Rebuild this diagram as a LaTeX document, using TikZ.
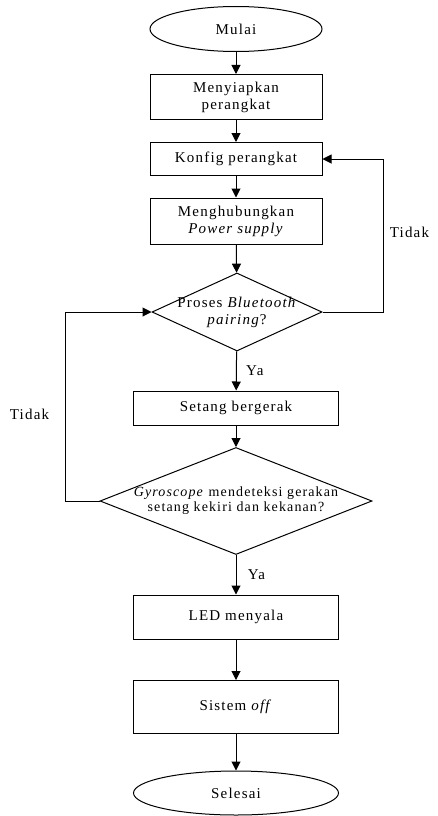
\documentclass[tikz,border=0pt]{standalone}
\usepackage{fontspec}
\setmainfont{Liberation Serif}[LetterSpace=8]
\usepackage{tikz}
\usetikzlibrary{shapes.geometric,arrows.meta}

\tikzset{
    proses/.style={draw, rectangle, minimum height=#1, align=center},
    terminal/.style={draw, ellipse, minimum width=172pt, minimum height=45pt},
    keputusan/.style={draw, diamond, inner sep=0pt},
}

\begin{document}
\begin{tikzpicture}[x=1pt, y=-1pt, line width=1pt, >={Triangle[length=9pt,width=9pt]},
        font=\fontsize{15}{17}\selectfont]
    \useasboundingbox (0, 0) rectangle (438, 816);

    \node (mulai) [terminal] at (236, 29) {Mulai};
    \node (siap) [proses=45pt, minimum width=172pt] at (236, 97) {Menyiapkan\\perangkat};
    \node (konfig) [proses=33pt, minimum width=172pt] at (236, 159) {Konfig perangkat};
    \node (hubung) [proses=46pt, minimum width=172pt] at (236, 221) {Menghubungkan\\\textit{Power supply}};
    \node (pairing) [keputusan, minimum width=170pt, minimum height=78pt,
        label={[align=center]center:Proses \textit{Bluetooth}\\\textit{pairing}?}] at (237, 312) {};
    \node (setang) [proses=34pt, minimum width=205pt] at (236, 408) {Setang bergerak};
    \node (gyro) [keputusan, minimum width=272pt, minimum height=107pt,
        label={[align=center, font=\fontsize{14}{15}\selectfont]center:\textit{Gyroscope} mendeteksi gerakan\\setang kekiri dan kekanan?}] at (236, 501) {};
    \node (led) [proses=44pt, minimum width=205pt] at (236, 617) {LED menyala};
    \node (off) [proses=53pt, minimum width=205pt] at (236, 707) {Sistem \textit{off}};
    \node (selesai) [terminal, minimum width=205pt, minimum height=44pt] at (236, 793) {Selesai};

    \coordinate (kanan) at (383, 312);
    \coordinate (kiri) at (65, 501);

    \draw[->] (mulai) -- (siap);
    \draw[->] (siap) -- (konfig);
    \draw[->] (konfig) -- (hubung);
    \draw[->] (hubung) -- (pairing);
    \draw[->] (pairing) -- (setang) node (ya1) [midway, right=6pt] {Ya};
    \draw[->] (pairing.east) -- (kanan) |- (konfig.east) node (tidak1) [pos=0.26, right=3pt] {Tidak};
    \draw[->] (setang) -- (gyro);
    \draw[->] (gyro.west) -- (kiri) |- (pairing.west) node (tidak2) [pos=0.23, left=12pt] {Tidak};
    \draw[->] (gyro) -- (led) node (ya2) [midway, right=8pt] {Ya};
    \draw[->] (led) -- (off);
    \draw[->] (off) -- (selesai);
\end{tikzpicture}
\end{document}
